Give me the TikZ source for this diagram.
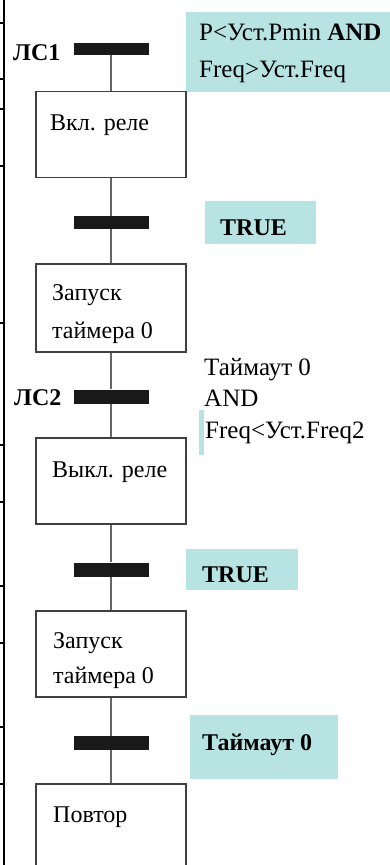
\documentclass[tikz,border=0pt]{standalone}
\usepackage{fontspec}
\setmainfont{Liberation Serif}
\definecolor{cyanbg}{RGB}{183,227,227}
\tikzset{
  stepbox/.style={draw=black!75, line width=1.2pt, minimum width=150pt, minimum height=86pt, inner sep=0pt},
  trbar/.style={fill=black!90, minimum width=75pt, minimum height=13pt, inner sep=0pt},
  link/.style={draw=black!60, line width=1.1pt},
  cond/.style={fill=cyanbg, inner sep=0pt},
  txt/.style={font=\fontsize{24}{28}\selectfont, inner sep=0pt, anchor=base west},
  btxt/.style={font=\fontsize{24}{28}\selectfont\bfseries, inner sep=0pt, anchor=base west},
  ctxt/.style={font=\fontsize{25}{30}\selectfont, inner sep=0pt, anchor=base west},
  border/.style={draw=black, line width=2.6pt},
  tick/.style={draw=black, line width=1.6pt},
}
\begin{document}
\begin{tikzpicture}[x=1pt,y=-1pt]
\useasboundingbox (0,0) rectangle (390,865);
\clip (0,0) rectangle (390,865);
% table border fragment on the left
\draw[border] (4,0) -- (4,865);
\foreach \yy in {23,79,109,166,323,445,502,586,643,727,784}
  \draw[tick] (0,\yy) -- (4,\yy);
% condition backgrounds
\node[cond, minimum width=204pt, minimum height=80pt] (c1) at (288,52) {};
\node[cond, minimum width=111pt, minimum height=43pt] (c2) at (260.5,222.5) {};
\node[cond, minimum width=5pt, minimum height=45pt] (c3) at (201.5,432.5) {};
\node[cond, minimum width=112pt, minimum height=41pt] (c4) at (242,569.5) {};
\node[cond, minimum width=148pt, minimum height=64pt] (c5) at (264,747) {};
% steps
\node[stepbox] (s1) at (111,134.5) {};
\node[stepbox, minimum height=88pt] (s2) at (111,308) {};
\node[stepbox] (s3) at (111,481) {};
\node[stepbox] (s4) at (111,654) {};
\node[stepbox] (s5) at (111,827) {};
% transitions
\node[trbar, minimum height=12pt] (b1) at (111,49) {};
\node[trbar] (b2) at (111,222.5) {};
\node[trbar, minimum height=14pt] (b3) at (111,396.5) {};
\node[trbar, minimum height=14pt] (b4) at (111,569.5) {};
\node[trbar, minimum height=14pt] (b5) at (111,743) {};
% connectors
\draw[link] (b1.south) -- (s1.north);
\draw[link] (s1.south) -- (b2.north);
\draw[link] (b2.south) -- (s2.north);
\draw[link] (s2.south) -- (b3.north);
\draw[link] (b3.south) -- (s3.north);
\draw[link] (s3.south) -- (b4.north);
\draw[link] (b4.south) -- (s4.north);
\draw[link] (s4.south) -- (b5.north);
\draw[link] (b5.south) -- (s5.north);
% transition names
\node[btxt] (l1) at (13,60) {ЛС1};
\node[btxt] (l2) at (14,405) {ЛС2};
% step texts
\node[txt] (t1) at (50,130) {Вкл. реле};
\node[txt] (t2a) at (52,300) {Запуск};
\node[txt] (t2b) at (52,338) {таймера 0};
\node[txt] (t3) at (52,477) {Выкл. реле};
\node[txt] (t4a) at (53,648) {Запуск};
\node[txt] (t4b) at (53,683) {таймера 0};
\node[txt] (t5) at (53,822) {Повтор};
% conditions
\node[ctxt] (k1a) at (199,40) {P<Уст.Pmin \textbf{AND}};
\node[ctxt] (k1b) at (199,77) {Freq>Уст.Freq};
\node[btxt] (k2) at (220,235) {TRUE};
\node[ctxt] (k3a) at (204,375) {Таймаут 0};
\node[ctxt] (k3b) at (204,406) {AND};
\node[ctxt] (k3c) at (205,438) {Freq<Уст.Freq2};
\node[btxt] (k4) at (202,582) {TRUE};
\node[btxt] (k5) at (202,750) {Таймаут 0};
\end{tikzpicture}
\end{document}
